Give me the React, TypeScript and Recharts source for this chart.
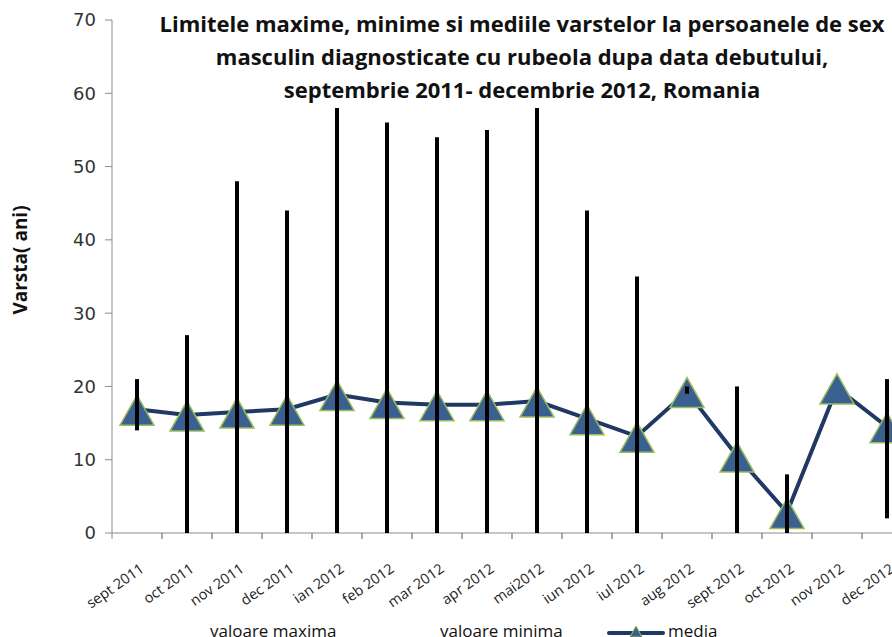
import React from "react";
import {
  ComposedChart,
  Bar,
  Line,
  XAxis,
  YAxis,
  Label,
} from "recharts";

const MONTHS = [
  "sept 2011", "oct 2011", "nov 2011", "dec 2011", "ian 2012", "feb 2012",
  "mar 2012", "apr 2012", "mai2012", "iun 2012", "iul 2012", "aug 2012",
  "sept 2012", "oct 2012", "nov 2012", "dec 2012",
];
const MAX_VALUES = [21, 27, 48, 44, 58, 56, 54, 55, 58, 44, 35, 20, 20, 8, 20, 21];
const MIN_VALUES = [14, 0, 0, 0, 0, 0, 0, 0, 0, 0, 0, 19, 0, 0, 20, 2];
const MEDIA_VALUES = [16.9, 16.1, 16.5, 16.9, 18.9, 17.8, 17.5, 17.5, 18, 15.6, 13.2, 19.3, 10.5, 2.8, 19.8, 14.5];
const Y_TICKS = [0, 10, 20, 30, 40, 50, 60, 70];

const TITLE_LINES = [
  "Limitele maxime, minime si mediile varstelor la persoanele de sex",
  "masculin diagnosticate cu rubeola dupa data debutului,",
  "septembrie 2011- decembrie 2012, Romania",
];
const LEGEND_NAMES = ["valoare maxima", "valoare minima", "media"];

const data = MONTHS.map((month, i) => ({
  month,
  range: [MIN_VALUES[i], MAX_VALUES[i]],
  media: MEDIA_VALUES[i],
}));

const LINE_COLOR = "#1F3864";
const MARKER_FILL = "#3A6091";
const MARKER_EDGE = "#9BBB59";
const AXIS_COLOR = "#8c8c8c";

function Triangle(props: any) {
  const { cx, cy } = props;
  if (cx == null || cy == null) return null;
  const pts = `${cx},${cy - 14} ${cx + 17},${cy + 16} ${cx - 17},${cy + 16}`;
  return <polygon points={pts} fill={MARKER_FILL} stroke={MARKER_EDGE} strokeWidth={1.5} />;
}

function MonthTick(props: any) {
  const { x, y, payload } = props;
  const ax = y - 8;
  const tx = x + 8;
  const ty = ax + 38;
  return (
    <g>
      <line x1={x - 25} y1={ax} x2={x - 25} y2={ax + 6} stroke={AXIS_COLOR} />
      <line x1={x + 25} y1={ax} x2={x + 25} y2={ax + 6} stroke={AXIS_COLOR} />
      <text
        x={tx}
        y={ty}
        textAnchor="end"
        transform={`rotate(-35 ${tx} ${ty})`}
        fontFamily="Open Sans"
        fontSize={14.5}
        fill="#222"
      >
        {payload.value}
      </text>
    </g>
  );
}

function YTitle() {
  return (
    <text
      x={27}
      y={260}
      textAnchor="middle"
      transform="rotate(-90 27 260)"
      fontFamily="Open Sans"
      fontWeight={700}
      fontSize={19}
      fill="#111"
    >
      Varsta( ani)
    </text>
  );
}

export default function App() {
  return (
    <div style={{ position: "relative", width: 892, height: 637, overflow: "hidden", background: "#fff" }}>
      <style>{`body{margin:0;overflow:hidden}`}</style>
      <ComposedChart
        width={920}
        height={640}
        data={data}
        margin={{ top: 20, right: 8, left: 0, bottom: 47 }}
      >
        <XAxis
          dataKey="month"
          height={60}
          interval={0}
          stroke={AXIS_COLOR}
          tickLine={false}
          tick={<MonthTick />}
        />
        <YAxis
          width={112}
          domain={[0, 70]}
          ticks={Y_TICKS}
          stroke={AXIS_COLOR}
          tickSize={7}
          tickMargin={9}
          tick={{ fontFamily: "DejaVu Sans", fontSize: 18, fill: "#333" }}
        >
          <Label content={<YTitle />} />
        </YAxis>
        <Line
          dataKey="media"
          stroke={LINE_COLOR}
          strokeWidth={4}
          dot={<Triangle />}
          activeDot={false}
          isAnimationActive={false}
        />
        <Bar dataKey="range" fill="#000" barSize={4} zIndex={700} isAnimationActive={false} />
      </ComposedChart>

      <div
        style={{
          position: "absolute",
          left: 150,
          top: 7,
          width: 744,
          textAlign: "center",
          fontFamily: "Open Sans",
          fontWeight: 700,
          fontSize: 22,
          lineHeight: "33px",
          color: "#111",
          whiteSpace: "nowrap",
        }}
      >
        {TITLE_LINES.map((t) => (
          <div key={t}>{t}</div>
        ))}
      </div>

      <div
        style={{
          position: "absolute",
          top: 621,
          left: 0,
          fontFamily: "Open Sans",
          fontSize: 17,
          lineHeight: "20px",
          color: "#111",
        }}
      >
        <span style={{ position: "absolute", left: 210, whiteSpace: "nowrap" }}>{LEGEND_NAMES[0]}</span>
        <span style={{ position: "absolute", left: 440, whiteSpace: "nowrap" }}>{LEGEND_NAMES[1]}</span>
        <svg style={{ position: "absolute", left: 607, top: 2 }} width={58} height={18}>
          <line x1={2} y1={10} x2={56} y2={10} stroke={LINE_COLOR} strokeWidth={4} strokeLinecap="round" />
          <polygon points="29,3 35,14 23,14" fill={MARKER_FILL} stroke={MARKER_EDGE} strokeWidth={1} />
        </svg>
        <span style={{ position: "absolute", left: 668, whiteSpace: "nowrap" }}>{LEGEND_NAMES[2]}</span>
      </div>
    </div>
  );
}
